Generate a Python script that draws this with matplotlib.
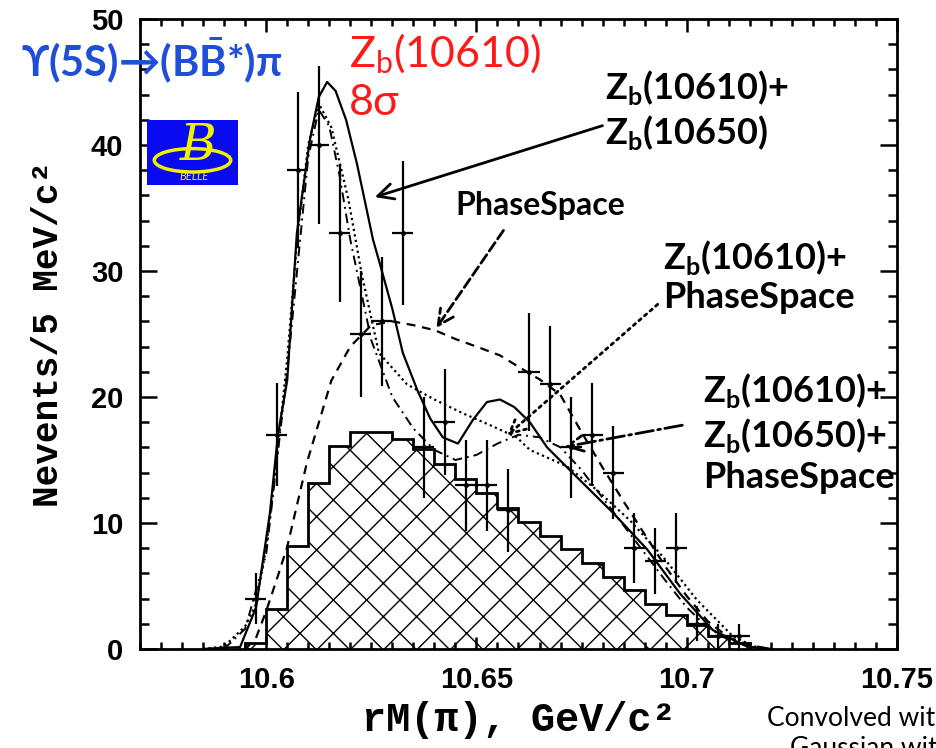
import numpy as np
import matplotlib
matplotlib.use("Agg")
import matplotlib.pyplot as plt
from matplotlib.patches import Rectangle, Ellipse
from matplotlib.ticker import MultipleLocator

# fuentes: Lato para los textos tipo Calibri
plt.rcParams['font.family'] = ['Lato', 'DejaVu Sans']
plt.rcParams['mathtext.fontset'] = 'custom'
plt.rcParams['mathtext.rm'] = 'Lato'
plt.rcParams['mathtext.bf'] = 'Lato:bold'
plt.rcParams['hatch.linewidth'] = 1.0

# histograma de fondo (rayado), bins de 5 MeV
hist_edges = np.round(np.arange(10.595, 10.7151, 0.005), 3)
hist_vals = [0.5, 3.2, 8.2, 13.2, 16.1, 17.2, 17.2, 16.7, 15.9, 14.7, 13.5, 12.4,
             11.2, 10.1, 9.0, 7.9, 6.8, 5.7, 4.7, 3.6, 2.7, 1.9, 1.0, 0.5]

# puntos con barras de error
pts_x = [10.5975, 10.6025, 10.6075, 10.6125, 10.6175, 10.6225, 10.6275, 10.6325,
         10.6375, 10.6425, 10.6475, 10.6525, 10.6575, 10.6625, 10.6675, 10.6725,
         10.6775, 10.6825, 10.6875, 10.6925, 10.6975, 10.7025, 10.7075, 10.7125]
pts_y = [4, 17, 38, 40, 33, 25, 26, 33, 16, 18, 13, 13, 11, 22, 21, 16, 17, 14,
         8, 7, 8, 2, 1, 1]
pts_err = [2, 4.1, 6.2, 6.3, 5.5, 5, 5.1, 5.7, 4, 4.2, 3.6, 3.6, 3.3, 4.7, 4.6,
           4, 4.1, 3.7, 2.8, 2.6, 2.8, 1.4, 1, 1]

# curva solida: Zb(10610)+Zb(10650)
solid_x = [10.585, 10.590, 10.5938, 10.5976, 10.6009, 10.6028, 10.605, 10.6073,
           10.6104, 10.6125, 10.6145, 10.6165, 10.6190, 10.6216, 10.6254, 10.6271,
           10.6300, 10.6325, 10.6360, 10.6390, 10.6420, 10.6456, 10.6492, 10.6525,
           10.6556, 10.6590, 10.6627, 10.6668, 10.6746, 10.6825, 10.6906, 10.6984,
           10.7062, 10.7143, 10.720]
solid_y = [0, 0.1, 0.15, 3.3, 10.8, 17, 21.3, 33, 40.4, 43.8, 45, 44.3, 42, 38.5,
           32.5, 30.5, 27, 23.5, 20.5, 18.3, 16.8, 16.3, 18.2, 19.6, 19.8, 19.2,
           18, 16, 13.4, 10.8, 7.9, 4.4, 1.5, 0.2, 0]

# curva punteada: Zb(10610)+PhaseSpace
dot_x = [10.585, 10.590, 10.595, 10.5975, 10.600, 10.6025, 10.605, 10.6075, 10.610,
         10.6125, 10.6155, 10.6196, 10.6227, 10.6268, 10.6335, 10.640, 10.6468,
         10.6530, 10.6596, 10.6627, 10.6715, 10.6787, 10.6865, 10.6944, 10.7024,
         10.711, 10.716, 10.720]
dot_y = [0, 0.2, 1.8, 3.5, 8, 15, 23, 33, 40, 43.3, 41.4, 35.6, 29.8, 23.5, 21,
         19.8, 18.7, 17.8, 16.8, 15.8, 14.5, 12.6, 10.2, 7.3, 3.9, 1.0, 0.2, 0]

# curva de trazos: PhaseSpace
dash_x = [10.595, 10.5975, 10.600, 10.6025, 10.605, 10.6097, 10.6155, 10.620,
          10.625, 10.630, 10.635, 10.6401, 10.645, 10.650, 10.6556, 10.660, 10.665,
          10.6699, 10.675, 10.680, 10.685, 10.690, 10.695, 10.700, 10.705, 10.710,
          10.715, 10.720]
dash_y = [0, 0.8, 3, 5.5, 8.1, 14.8, 21.3, 24, 25.7, 26, 25.7, 25.3, 24.6, 24,
          23.3, 22.4, 21.4, 20.2, 17.2, 14.4, 11.7, 9.1, 6.5, 4.2, 2.2, 0.9, 0.3, 0]

# curva trazo-punto: Zb(10610)+Zb(10650)+PhaseSpace
dd_x = [10.590, 10.595, 10.600, 10.605, 10.610, 10.6125, 10.615, 10.6175, 10.620,
        10.625, 10.630, 10.635, 10.640, 10.645, 10.650, 10.655, 10.660, 10.665,
        10.670, 10.675, 10.680, 10.685, 10.690, 10.695, 10.700, 10.705, 10.710,
        10.715, 10.720]
dd_y = [0, 1.6, 7.5, 22, 39, 42.8, 41.5, 37.5, 32.5, 24.5, 20, 17.5, 15.8, 15.0,
        15.4, 16.3, 17.0, 16.8, 16.0, 14.2, 12.0, 9.8, 7.6, 5.4, 3.3, 1.7, 0.7,
        0.2, 0]

fig = plt.figure(figsize=(9.37, 7.48), dpi=100)
ax = fig.add_axes([0.1494, 0.1324, 0.8079, 0.8422])

# histograma rayado
ax.stairs(hist_vals, hist_edges, fill=True, facecolor='white', edgecolor='black',
          hatch='x', lw=0, zorder=1)
ax.stairs(hist_vals, hist_edges, color='black', lw=2, zorder=2)

# curvas del ajuste
ax.plot(solid_x, solid_y, color='black', lw=1.6, zorder=4)
ax.plot(dot_x, dot_y, color='black', lw=1.6, ls=(0, (1, 1.5)), zorder=4)
ax.plot(dash_x, dash_y, color='black', lw=1.6, ls=(0, (4, 3)), zorder=4)
ax.plot(dd_x, dd_y, color='black', lw=1.4, ls=(0, (5, 2.5, 1, 2.5)), zorder=4)

# datos
ax.errorbar(pts_x, pts_y, yerr=pts_err, xerr=0.0025, fmt='o', ms=2.5,
            color='black', ecolor='black', elinewidth=1.6, capsize=0, zorder=5)

ax.set_xlim(10.57, 10.75)
ax.set_ylim(0, 50)
ax.xaxis.set_minor_locator(MultipleLocator(0.005))
ax.yaxis.set_major_locator(MultipleLocator(10))
ax.yaxis.set_minor_locator(MultipleLocator(2))
ax.set_xticks([10.6, 10.65, 10.7, 10.75])
ax.set_xticklabels(['10.6', '10.65', '10.7', '10.75'])
ax.tick_params(which='both', direction='in', top=True, right=True, width=1.8,
               labelsize=21)
ax.tick_params(axis='x', which='major', length=9, pad=12)
ax.tick_params(axis='x', which='minor', length=5)
ax.tick_params(axis='y', which='major', length=12, pad=12)
ax.tick_params(axis='y', which='minor', length=6.5)
for lab in ax.get_xticklabels() + ax.get_yticklabels():
    lab.set_fontfamily('Liberation Sans')
    lab.set_fontweight('bold')
for s in ax.spines.values():
    s.set_linewidth(2)

ax.set_xlabel('rM(\u03c0), GeV/c\u00b2', fontfamily='Liberation Mono',
              fontweight='bold', fontsize=29, labelpad=5)
ax.set_ylabel('Nevents/5 MeV/c\u00b2', fontfamily='Liberation Mono',
              fontweight='bold', fontsize=26, labelpad=18)

# textos
fig.text(0.022, 0.92, '\u03d2(5S)\u2192(B' + r'$\mathbf{\bar{B}}$' + '*)\u03c0',
         color='#1f4fd6', fontsize=30, fontweight='bold', va='center',
         family=['Lato', 'DejaVu Sans'])
fig.text(0.372, 0.928, r'Z$_\mathrm{b}$(10610)', color='#ff1a1a', fontsize=31,
         va='center')
fig.text(0.372, 0.862, '8\u03c3', color='#ff1a1a', fontsize=31, va='center')

ax.text(10.6805, 42.8, 'Z$_\\mathbf{b}$(10610)+\nZ$_\\mathbf{b}$(10650)',
        fontsize=26, fontweight='bold', va='center', linespacing=1.2)
ax.text(10.6449, 35.2, 'PhaseSpace', fontsize=23, fontweight='bold', va='center')
ax.text(10.6944, 29.6, 'Z$_\\mathbf{b}$(10610)+\nPhaseSpace', fontsize=26,
        fontweight='bold', va='center', linespacing=1.15)
ax.text(10.7039, 17.2, 'Z$_\\mathbf{b}$(10610)+\nZ$_\\mathbf{b}$(10650)+\nPhaseSpace',
        fontsize=26, fontweight='bold', va='center', linespacing=1.2)

# flechas
ax.annotate('', xy=(10.6252, 35.8), xytext=(10.6806, 41.6),
            arrowprops=dict(arrowstyle='->', lw=2, color='black',
                            mutation_scale=28))
ax.annotate('', xy=(10.6401, 25.3), xytext=(10.6568, 33.4),
            arrowprops=dict(arrowstyle='->', lw=2, color='black', ls='--',
                            mutation_scale=28))
ax.annotate('', xy=(10.6568, 16.8), xytext=(10.6936, 27.5),
            arrowprops=dict(arrowstyle='->', lw=2, color='black', ls=':',
                            mutation_scale=28))
ax.annotate('', xy=(10.6703, 16.0), xytext=(10.6996, 17.8),
            arrowprops=dict(arrowstyle='->', lw=2, color='black', ls='-.',
                            mutation_scale=28))

# logo de Belle
logo = fig.add_axes([147 / 937, 1 - 185 / 748, 91 / 937, 65 / 748])
logo.add_patch(Rectangle((0, 0), 1, 1, color='#0a0af0'))
logo.add_patch(Ellipse((0.5, 0.38), 0.84, 0.36, fill=False, ec='#f0f000', lw=2.5))
logo.text(0.56, 0.6, 'B', color='#f0f000', fontsize=36, ha='center', va='center',
          fontfamily='DejaVu Serif', fontstyle='italic')
logo.text(0.52, 0.13, 'BELLE', color='#f0f000', fontsize=8, ha='center',
          va='center', fontstyle='italic')
logo.set_xlim(0, 1)
logo.set_ylim(0, 1)
logo.axis('off')

fig.text(0.819, 0.04, 'Convolved wit', fontsize=19, va='center')
fig.text(0.843, 0.0, 'Gaussian wit', fontsize=19, va='center')

fig.savefig('out.png', dpi=100)
